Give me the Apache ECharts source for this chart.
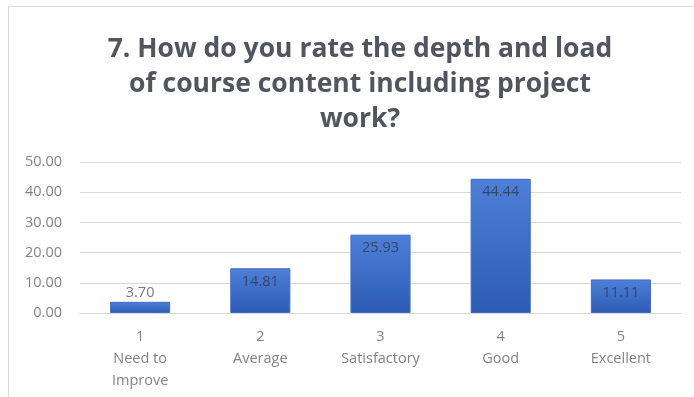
<!DOCTYPE html>
<html>
<head>
<meta charset="utf-8">
<script src="https://cdn.jsdelivr.net/npm/echarts@6/dist/echarts.min.js"></script>
<style>
  html, body { margin: 0; padding: 0; background: #ffffff; }
  #chart { width: 694px; height: 397px; }
</style>
</head>
<body>
<div id="chart"></div>
<script>
// Survey question 7: rating distribution (percent of respondents)
const ratingNumbers = ['1', '2', '3', '4', '5'];
const ratingNames = ['Need to\nImprove', 'Average', 'Satisfactory', 'Good', 'Excellent'];
const percentValues = [3.70, 14.81, 25.93, 44.44, 11.11];
const yTicks = { min: 0, max: 50, interval: 10 };
const titleText = '7. How do you rate the depth and load\nof course content including project\nwork?';

const categories = ratingNumbers.map((n, i) => n + '\n' + ratingNames[i]);

const barFill = new echarts.graphic.LinearGradient(0, 0, 0, 1, [
  { offset: 0, color: '#4f7fd8' },
  { offset: 1, color: '#2d5bb4' }
]);

const seriesData = percentValues.map((v, i) => {
  const item = { value: v };
  // the shortest bar carries its label above the bar
  if (v < 8) {
    item.label = { position: 'top', color: '#7a7a7a', distance: 1 };
  }
  return item;
});

const chart = echarts.init(document.getElementById('chart'), null, { renderer: 'canvas' });
chart.setOption({
  backgroundColor: '#ffffff',
  animation: false,
  graphic: [{
    type: 'rect',
    shape: { x: 8.5, y: 6.5, width: 700, height: 400 },
    style: { fill: 'none', stroke: '#d9d9d9', lineWidth: 1 },
    silent: true
  }],
  title: {
    text: titleText,
    left: 355,
    textAlign: 'center',
    top: 27,
    textStyle: {
      fontFamily: 'Open Sans',
      fontSize: 26.5,
      fontWeight: 'bold',
      color: '#50555f',
      lineHeight: 35
    }
  },
  grid: { left: 80, right: 13, top: 162, bottom: 84, containLabel: false },
  xAxis: {
    type: 'category',
    data: categories,
    axisLine: { show: true, lineStyle: { color: '#d9d9d9' } },
    axisTick: { show: false },
    axisLabel: {
      color: '#848484',
      fontFamily: 'Open Sans',
      fontSize: 14.5,
      lineHeight: 22,
      margin: 13,
      interval: 0
    }
  },
  yAxis: {
    type: 'value',
    min: yTicks.min,
    max: yTicks.max,
    interval: yTicks.interval,
    axisLine: { show: false },
    axisTick: { show: false },
    splitLine: { lineStyle: { color: '#d9d9d9' } },
    axisLabel: {
      color: '#848484',
      fontFamily: 'Open Sans',
      fontSize: 14.5,
      margin: 18,
      formatter: v => v.toFixed(2)
    }
  },
  series: [{
    type: 'bar',
    data: seriesData,
    barWidth: '50%',
    itemStyle: { color: barFill, borderColor: '#3f6cc2', borderWidth: 1 },
    label: {
      show: true,
      position: 'insideTop',
      distance: 6,
      color: '#34466b',
      fontFamily: 'Open Sans',
      fontSize: 14.5,
      formatter: p => p.value.toFixed(2)
    }
  }]
});
</script>
</body>
</html>
